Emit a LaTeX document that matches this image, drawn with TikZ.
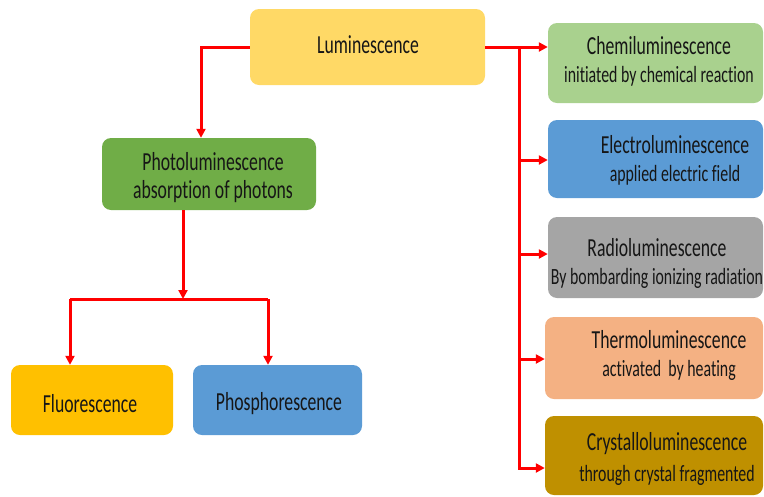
\documentclass[tikz,border=0pt]{standalone}
\usepackage{fontspec}
\setmainfont{Carlito}[FakeStretch=0.68, Ligatures={NoCommon}]
\usetikzlibrary{arrows.meta}
\definecolor{arrred}{HTML}{FF0000}
\definecolor{txt}{HTML}{161616}
\definecolor{cLum}{HTML}{FFD966}
\definecolor{cPL}{HTML}{70AD47}
\definecolor{cFl}{HTML}{FFC000}
\definecolor{cBlue}{HTML}{5B9BD5}
\definecolor{cCh}{HTML}{A9D18E}
\definecolor{cRa}{HTML}{A5A5A5}
\definecolor{cTh}{HTML}{F4B183}
\definecolor{cCr}{HTML}{BF9000}
\begin{document}
\begin{tikzpicture}[x=1pt,y=-1pt,
  box/.style={draw=none, rounded corners=9pt, inner sep=0pt},
  arr/.style={draw=arrred, line width=3pt, -{Triangle[length=9pt,width=9pt]}},
  ln/.style={draw=arrred, line width=3pt},
  lbl/.style={text=txt, align=center, inner sep=0pt, font=\fontsize{26}{28}\selectfont},
]
\useasboundingbox (0,0) rectangle (764,496);
% boxes
\node[box, fill=cLum, minimum width=235pt, minimum height=76pt] (lum) at (367.5,47) {};
\node[box, fill=cPL, minimum width=214pt, minimum height=72pt] (pl) at (209,174) {};
\node[box, fill=cFl, minimum width=162pt, minimum height=70pt] (fl) at (92,400) {};
\node[box, fill=cBlue, minimum width=169pt, minimum height=70pt] (ph) at (277.5,400) {};
\node[box, fill=cCh, minimum width=215pt, minimum height=80pt] (ch) at (655.5,63) {};
\node[box, fill=cBlue, minimum width=215pt, minimum height=78pt] (el) at (655.5,159) {};
\node[box, fill=cRa, minimum width=215pt, minimum height=81pt] (ra) at (655.5,257.5) {};
\node[box, fill=cTh, minimum width=218pt, minimum height=82pt] (th) at (654,358) {};
\node[box, fill=cCr, minimum width=218pt, minimum height=79pt] (cr) at (654,455.5) {};
% texts
\node[lbl] (lumT) at (368,45) {Luminescence};
\node[lbl] (plT) at (213,178) {Photoluminescence\\absorption of photons};
\node[lbl] (flT) at (90,404) {Fluorescence};
\node[lbl] (phT) at (279,404) {Phosphorescence};
\node[lbl] (chT) at (659,61) {Chemiluminescence\\{\fontsize{23.3}{25}\selectfont initiated by chemical reaction}};
\node[lbl] (elT) at (675,160) {Electroluminescence\\{\fontsize{23.3}{25}\selectfont applied electric field}};
\node[lbl] (raT) at (657,263) {Radioluminescence\\{\fontsize{23.3}{25}\selectfont By bombarding ionizing radiation}};
\node[lbl] (thT) at (669,355) {Thermoluminescence\\{\fontsize{23.3}{25}\selectfont activated\ \ by heating}};
\node[lbl] (crT) at (667,459) {Crystalloluminescence\\[3pt]{\fontsize{23.3}{25}\selectfont through crystal fragmented}};
% connectors
\coordinate (jn) at (183,299);
\coordinate (jl) at (70,299);
\coordinate (jr) at (268,299);
\coordinate (tt) at (519,47);
\coordinate (be) at (519,160);
\coordinate (br) at (519,254);
\coordinate (bt) at (519,359);
\coordinate (bc) at (519,468);
\draw[arr] (lum.west) -| ([xshift=-8pt]pl.north);
\draw[arr] ([xshift=-26pt]pl.south) -- (jn);
\draw[ln] (jl) -- (jr);
\draw[arr] (jl) -- (jl |- fl.north);
\draw[arr] (jr) -- (jr |- ph.north);
\draw[arr] (lum.east) -- (lum.east -| ch.west);
\draw[arr] (tt) -- (bc) -- (bc -| cr.west);
\draw[arr] (be) -- (be -| el.west);
\draw[arr] (br) -- (br -| ra.west);
\draw[arr] (bt) -- (bt -| th.west);
\end{tikzpicture}
\end{document}
